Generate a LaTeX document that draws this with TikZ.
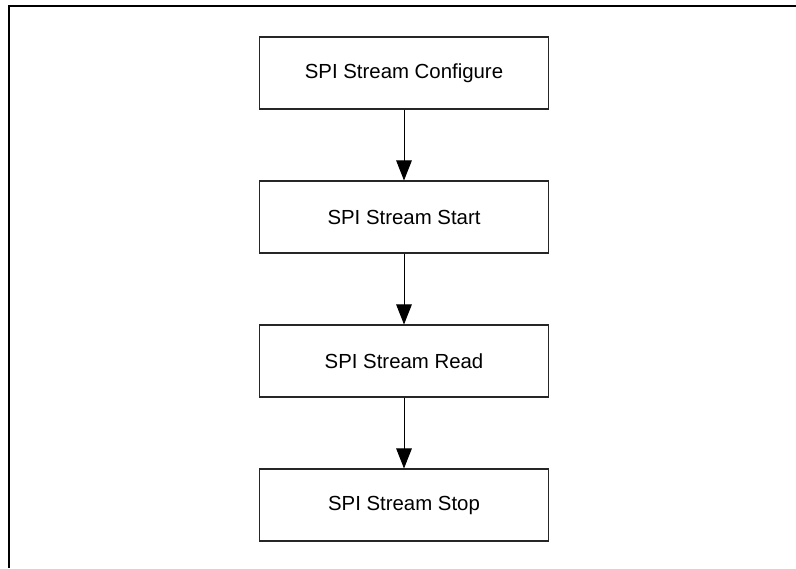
\documentclass[tikz,border=0pt]{standalone}
\usepackage{fontspec}
\setmainfont{Liberation Sans}
\usetikzlibrary{arrows.meta}

\begin{document}
\begin{tikzpicture}[node distance=3.6cm, every node/.style={draw=black!85, line width=0.8pt, rectangle, minimum width=7.225cm, minimum height=1.8cm, font=\fontsize{14.5}{17}\selectfont}]

\useasboundingbox (0,0) rectangle (19.9,14.2);
\draw[line width=1.7pt] (0.225,0) -- (0.225,14.05) -- (19.9,14.05);

\node (configure) at (10.1,12.375) {SPI Stream Configure};
\node (start) [below of=configure] {SPI Stream Start};
\node (read) [below of=start] {SPI Stream Read};
\node (stop) [below of=read] {SPI Stream Stop};

\draw[-{Triangle[length=5mm,width=3.9mm]}, line width=0.6pt] (configure) -- (start);
\draw[-{Triangle[length=5mm,width=3.9mm]}, line width=0.6pt] (start) -- (read);
\draw[-{Triangle[length=5mm,width=3.9mm]}, line width=0.6pt] (read) -- (stop);

\end{tikzpicture}
\end{document}
